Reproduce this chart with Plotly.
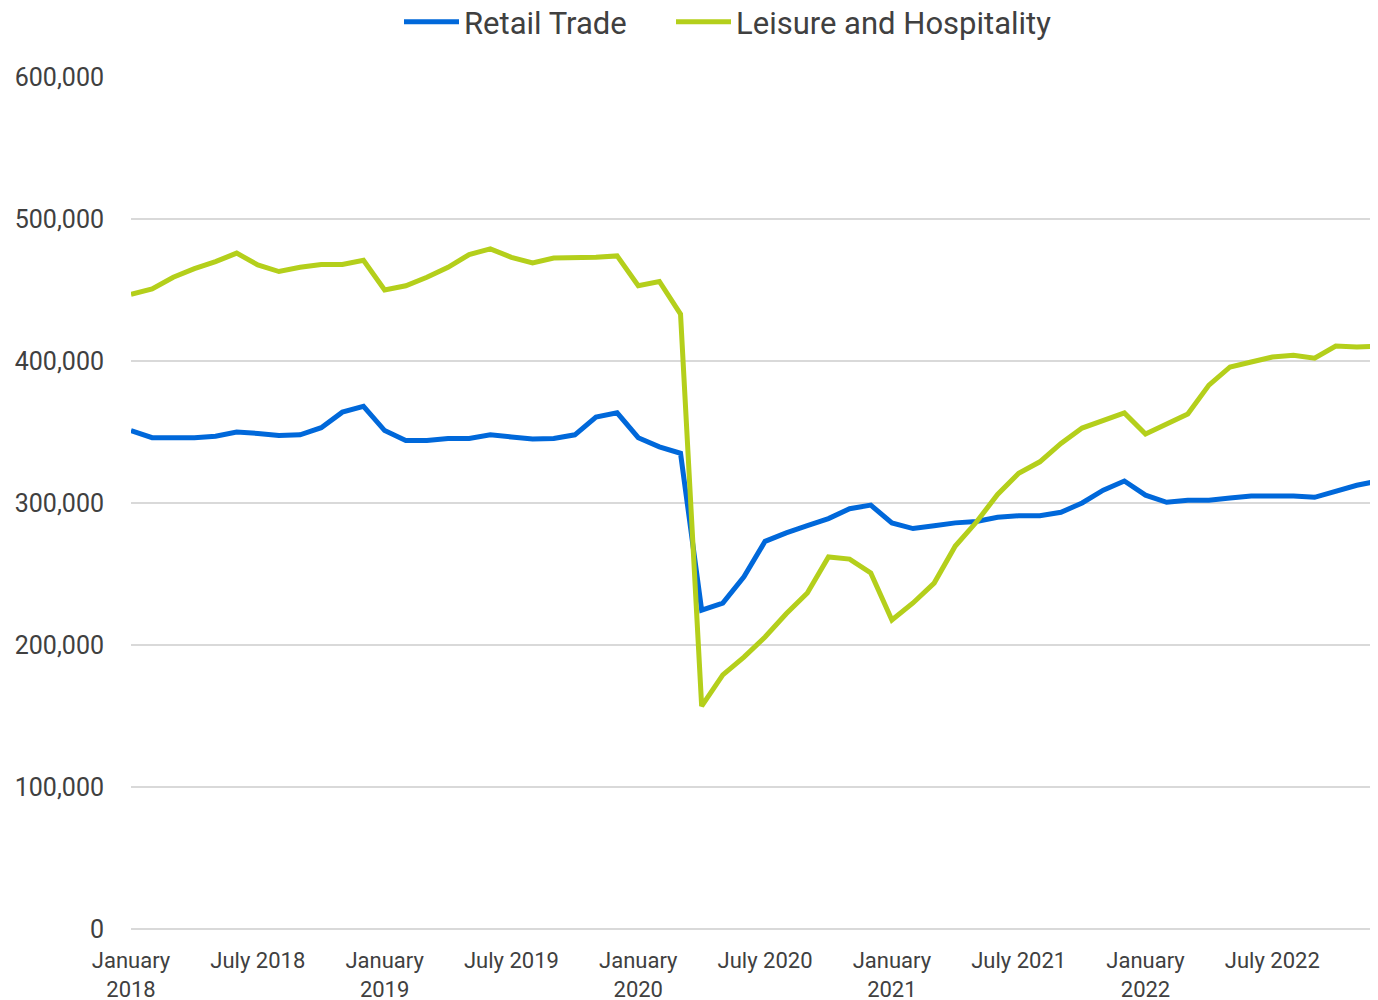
import plotly.graph_objects as go

months = [f"{m} {y}" for y in range(2018, 2023) for m in
          ["Jan", "Feb", "Mar", "Apr", "May", "Jun", "Jul", "Aug", "Sep", "Oct", "Nov", "Dec"]]

retail_trade = [
    351000, 346000, 346000, 346000, 347000, 350000, 349000, 347500, 348000, 353000, 364000, 368000,
    351000, 344000, 344000, 345500, 345500, 348000, 346500, 345000, 345500, 348000, 360500, 363500,
    346000, 339500, 335000, 224600, 229500, 248000, 273000, 279000, 284000, 289000, 296000, 298500,
    286000, 282000, 284000, 286000, 287000, 290000, 291000, 291000, 293500, 300000, 309000, 315500,
    305500, 300500, 302000, 302000, 303500, 305000, 305000, 305000, 304000, 308000, 312500, 315500,
]

leisure_hospitality = [
    447000, 450700, 459000, 465000, 470000, 476000, 467600, 463000, 466000, 468000, 468000, 471000,
    450000, 453000, 459000, 466000, 475000, 479000, 473000, 469000, 472500, 472500, 473000, 474000,
    453000, 456000, 433000, 157000, 179000, 191500, 205600, 222000, 236600, 262000, 260500, 250700,
    217600, 229600, 243600, 269700, 286600, 306000, 321000, 329000, 342000, 352800, 357700, 363400,
    348600, 355600, 362700, 383000, 395800, 399300, 402800, 404000, 402000, 410500, 409800, 410500,
]

tick_positions = [0, 6, 12, 18, 24, 30, 36, 42, 48, 54]
tick_labels = ["January<br>2018", "July 2018", "January<br>2019", "July 2019", "January<br>2020",
               "July 2020", "January<br>2021", "July 2021", "January<br>2022", "July 2022"]

y_ticks = [0, 100000, 200000, 300000, 400000, 500000, 600000]
y_labels = ["0", "100,000", "200,000", "300,000", "400,000", "500,000", "600,000"]

x_idx = list(range(len(months)))

FONT = "Roboto, sans-serif"

fig = go.Figure()
fig.add_trace(go.Scatter(x=x_idx, y=retail_trade, mode="lines", name="Retail Trade",
                         line=dict(color="#0068DA", width=5), text=months, legend="legend",
                         hovertemplate="%{text}: %{y:,}<extra>Retail Trade</extra>"))
fig.add_trace(go.Scatter(x=x_idx, y=leisure_hospitality, mode="lines", name="Leisure and Hospitality",
                         line=dict(color="#B4CF1B", width=5), text=months, legend="legend2",
                         hovertemplate="%{text}: %{y:,}<extra>Leisure and Hospitality</extra>"))

FIG_H = 992
legend_common = dict(orientation="h", xanchor="left", y=1 - 14 / FIG_H, yanchor="middle",
                     yref="container", xref="container",
                     font=dict(size=31, color="#404040"), itemwidth=55, bgcolor="rgba(0,0,0,0)")

# page body has an 8px margin; figure sized to fit inside the 1378x1000 window
fig.update_layout(
    width=1370, height=FIG_H,
    margin=dict(l=123, r=0, t=69, b=FIG_H - 921, autoexpand=False),
    paper_bgcolor="white", plot_bgcolor="white",
    font=dict(family=FONT, color="#404040", size=22),
    legend=dict(x=391 / 1370, **legend_common),
    legend2=dict(x=663 / 1370, **legend_common),
    showlegend=True,
)
fig.update_xaxes(range=[0, 59], tickmode="array", tickvals=tick_positions, ticktext=tick_labels,
                 showgrid=False, zeroline=False, showline=False, ticks="", ticklabelstandoff=16,
                 tickfont=dict(size=22, color="#404040"), fixedrange=True, automargin=False)
fig.update_yaxes(range=[0, 600000], tickmode="array", tickvals=y_ticks, ticktext=y_labels,
                 showgrid=True, gridcolor="#D9D9D9", gridwidth=1.5, zeroline=True,
                 zerolinecolor="#D9D9D9", zerolinewidth=1.5,
                 showline=False, ticks="", ticklabelstandoff=26,
                 tickfont=dict(size=25, color="#404040"), fixedrange=True, automargin=False)

fig.write_html("out.html")
